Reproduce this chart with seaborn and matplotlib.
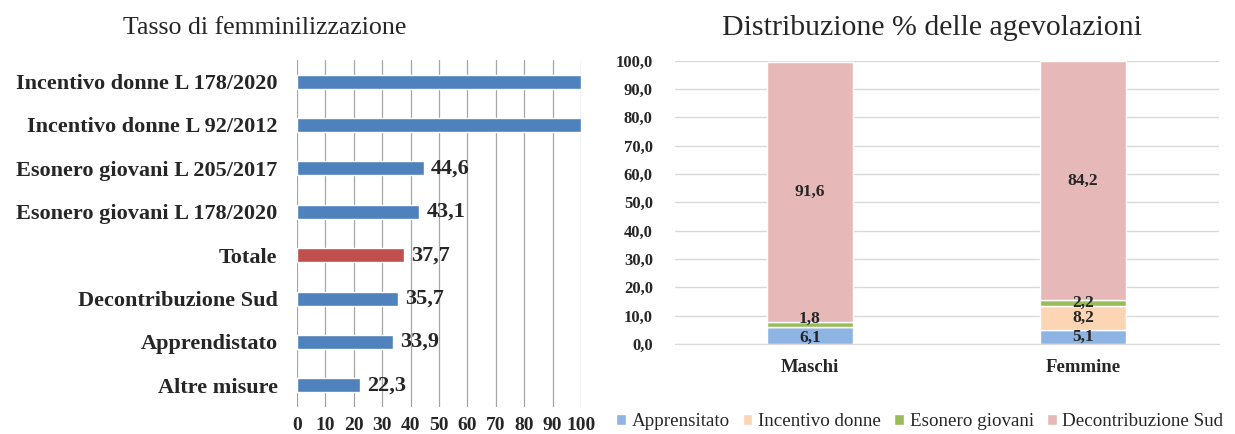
import numpy as np
import matplotlib
matplotlib.use("Agg")
import matplotlib.pyplot as plt
import seaborn as sns
import pandas as pd

# --- left panel: tasso di femminilizzazione ---
misure = ["Incentivo donne L 178/2020", "Incentivo donne L 92/2012",
          "Esonero giovani L 205/2017", "Esonero giovani L 178/2020",
          "Totale", "Decontribuzione Sud", "Apprendistato", "Altre misure"]
tasso = [100.0, 100.0, 44.6, 43.1, 37.7, 35.7, 33.9, 22.3]
bar_colors = ["#4F81BD"] * 4 + ["#C0504D"] + ["#4F81BD"] * 3

# --- right panel: distribuzione % delle agevolazioni ---
generi = ["Maschi", "Femmine"]
serie = ["Apprensitato", "Incentivo donne", "Esonero giovani", "Decontribuzione Sud"]
apprendistato = [6.1, 5.1]
incentivo_donne = [0.0, 8.2]
esonero_giovani = [1.8, 2.2]
decontribuzione = [91.6, 84.2]
serie_colors = ["#8EB4E3", "#FCD5B5", "#9BBB59", "#E6B9B8"]


def it_fmt(v):
    return f"{v:.1f}".replace(".", ",")


sns.set_style("white")
plt.rcParams["font.family"] = ["Liberation Serif", "DejaVu Serif"]

fig = plt.figure(figsize=(12.35, 4.34), dpi=100)

# ---------- left ----------
ax1 = fig.add_axes([0.2405, 0.062, 0.230, 0.800])
df1 = pd.DataFrame({"misura": misure, "tasso": tasso})
sns.barplot(data=df1, y="misura", x="tasso", hue="misura", palette=bar_colors,
            legend=False, width=0.32, saturation=1, ax=ax1)
ax1.set_xlim(0, 100)
ax1.set_ylim(7.5, -0.5)
ax1.set_xticks(np.arange(0, 101, 10))
ax1.xaxis.grid(True, color="#A6A6A6", linewidth=0.9)
ax1.set_axisbelow(True)
for s in ax1.spines.values():
    s.set_visible(False)
ax1.tick_params(axis="both", length=0)
ax1.tick_params(axis="x", labelsize=14, pad=7)
ax1.tick_params(axis="y", labelsize=16, pad=14)
for lab in ax1.get_xticklabels() + ax1.get_yticklabels():
    lab.set_fontweight("bold")
ax1.set_xlabel("")
ax1.set_ylabel("")
for cont, v in zip(ax1.containers, tasso):
    lbl = "" if v >= 100 else it_fmt(v)
    ax1.bar_label(cont, labels=[lbl], padding=5, fontsize=16, fontweight="bold")
fig.text(0.2146, 0.935, "Tasso di femminilizzazione", ha="center", va="center",
         fontsize=18.6)

# ---------- right ----------
ax2 = fig.add_axes([0.5466, 0.2074, 0.4404, 0.653])
valori = [apprendistato, incentivo_donne, esonero_giovani, decontribuzione]
bottom = np.zeros(len(generi))
label_sets = []
for nome, vals, col in zip(serie, valori, serie_colors):
    d = pd.DataFrame({"genere": generi, "val": vals})
    sns.barplot(data=d, x="genere", y="val", color=col, saturation=1,
                width=0.315, bottom=bottom, label=nome, ax=ax2)
    cont = ax2.containers[-1]
    labels = [it_fmt(v) if v > 0 else "" for v in vals]
    anns = ax2.bar_label(cont, labels=labels, label_type="center", fontsize=12.5,
                         fontweight="bold")
    label_sets.append(anns)
    bottom = bottom + np.array(vals)

# the thin Maschi segments: nudge labels apart like the original
label_sets[0][0].xyann = (0, -2)
label_sets[2][0].xyann = (0, 4)

ax2.set_ylim(0, 100)
ax2.set_xlim(-0.494, 1.498)
ax2.set_yticks(np.arange(0, 101, 10))
ax2.set_yticklabels([it_fmt(v) for v in np.arange(0, 101, 10)])
ax2.yaxis.grid(True, color="#D9D9D9", linewidth=1)
ax2.set_axisbelow(True)
for s in ["top", "right", "left"]:
    ax2.spines[s].set_visible(False)
ax2.spines["bottom"].set_color("#D9D9D9")
ax2.tick_params(axis="both", length=0)
ax2.tick_params(axis="y", labelsize=12, pad=16)
ax2.tick_params(axis="x", labelsize=13.5, pad=11)
for lab in ax2.get_xticklabels() + ax2.get_yticklabels():
    lab.set_fontweight("bold")
ax2.set_xlabel("")
ax2.set_ylabel("")
ax2.legend(loc="center", bbox_to_anchor=(0.45, -0.275), ncol=4, frameon=False,
           fontsize=13.7, handlelength=0.5, handleheight=0.5, handletextpad=0.3,
           columnspacing=0.7)
fig.text(0.7547, 0.935, "Distribuzione % delle agevolazioni", ha="center",
         va="center", fontsize=21.5)

plt.savefig("out.png", dpi=100)
